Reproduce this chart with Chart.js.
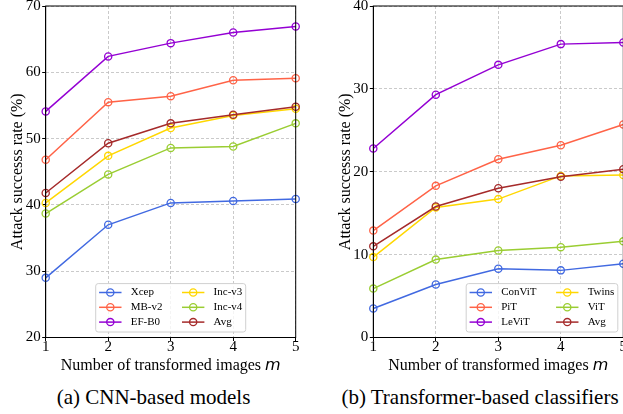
<!DOCTYPE html>
<html><head><meta charset="utf-8">
<script src="https://cdn.jsdelivr.net/npm/chart.js@4.4.1/dist/chart.umd.min.js"></script>
<style>
html,body{margin:0;padding:0;background:#fff;width:623px;height:414px;overflow:hidden;position:relative;}
canvas{position:absolute;top:0;}
#c1{left:0}
#c2{left:310px}
.cap{position:absolute;font-family:"Liberation Serif",serif;font-size:21px;line-height:21px;white-space:nowrap;color:#000;transform:translateX(-50%);top:386.7px}
</style></head><body>
<canvas id="c1" width="310" height="380"></canvas>
<canvas id="c2" width="330" height="380"></canvas>
<div class="cap" style="left:153.5px">(a) CNN-based models</div>
<div class="cap" style="left:480px">(b) Transformer-based classifiers</div>
<script>
// ---- data ----
const mValues = [1, 2, 3, 4, 5];

const cnnNames = ['Xcep', 'MB-v2', 'EF-B0', 'Inc-v3', 'Inc-v4', 'Avg'];
const xcep  = [29.0, 37.0, 40.3, 40.6, 40.9];
const mbv2  = [46.8, 55.5, 56.4, 58.8, 59.1];
const efb0  = [54.1, 62.4, 64.4, 66.0, 66.9];
const incv3 = [40.3, 47.4, 51.6, 53.5, 54.5];
const incv4 = [38.7, 44.6, 48.6, 48.8, 52.3];
const cnnAvg = [41.8, 49.3, 52.3, 53.6, 54.8];

const vitNames = ['ConViT', 'PiT', 'LeViT', 'Twins', 'ViT', 'Avg'];
const convit = [3.5, 6.4, 8.3, 8.1, 8.9];
const pit    = [12.9, 18.3, 21.5, 23.2, 25.7];
const levit  = [22.8, 29.3, 32.9, 35.4, 35.6];
const twins  = [9.7, 15.7, 16.7, 19.5, 19.6];
const vit    = [5.9, 9.4, 10.5, 10.9, 11.6];
const vitAvg = [11.0, 15.8, 18.0, 19.4, 20.3];

const cnnYTicks = [20, 30, 40, 50, 60, 70];
const vitYTicks = [0, 10, 20, 30, 40];

const xTitleText = 'Number of transformed images';
const xTitleVar = 'm';
const yTitleText = 'Attack successs rate (%)';

const seriesColors = ['#4169E1', '#FF6347', '#9400D3', '#FFD700', '#9ACD32', '#A52A2A'];

// ---- helpers ----
const SERIF = '"Liberation Serif", "Times New Roman", serif';

function makeDatasets(names, series) {
  return names.map((n, i) => ({
    label: n,
    data: series[i].map((v, j) => ({ x: mValues[j], y: v })),
    borderColor: seriesColors[i],
    backgroundColor: 'rgba(0,0,0,0)',
    borderWidth: 1.5,
    pointRadius: 3.6,
    pointBorderWidth: 1.3,
    pointBackgroundColor: 'rgba(0,0,0,0)',
    pointBorderColor: seriesColors[i],
    tension: 0,
    clip: false,
    order: names.length - 1 - i
  }));
}

function makeScales(yMin, yMax, yTicks, yAxisWidth, titlePad, canvasH, plotBottom) {
  const gridOpts = { color: '#bdbdbd', lineWidth: 0.8, tickLength: 3.5, tickColor: '#000', tickWidth: 1, tickBorderDash: [], drawTicks: true };
  const borderOpts = { display: true, color: '#000', width: 1, dash: [3, 2] };
  return {
    x: {
      type: 'linear', min: 1, max: 5, position: 'bottom',
      afterBuildTicks: s => { s.ticks = mValues.map(v => ({ value: v })); },
      ticks: { font: { family: SERIF, size: 15, lineHeight: 1 }, color: '#000', padding: -1.8, maxRotation: 0, autoSkip: false, callback: v => String(v) },
      grid: gridOpts, border: borderOpts,
      afterFit: s => { s.height = canvasH - plotBottom; s.paddingLeft = 0; s.paddingRight = 0; }
    },
    y: {
      type: 'linear', min: yMin, max: yMax, position: 'left',
      afterBuildTicks: s => { s.ticks = yTicks.map(v => ({ value: v })); },
      ticks: { font: { family: SERIF, size: 15, lineHeight: 1 }, color: '#000', padding: 1.5, autoSkip: false, callback: v => String(v) },
      grid: gridOpts, border: borderOpts,
      title: { display: true, text: yTitleText, color: '#000', font: { family: SERIF, size: 16, lineHeight: 1.2 }, padding: { top: titlePad, bottom: 0 } },
      afterFit: s => { s.width = yAxisWidth; s.paddingTop = 0; s.paddingBottom = 0; }
    }
  };
}

const framePlugin = {
  id: 'frame',
  afterDatasetsDraw(chart) {
    const { ctx, chartArea: a } = chart;
    ctx.save();
    ctx.strokeStyle = '#000';
    ctx.lineWidth = 1;
    ctx.setLineDash([]);
    ctx.strokeRect(a.left, a.top, a.right - a.left, a.bottom - a.top);
    ctx.restore();
  }
};

const xTitlePlugin = {
  id: 'xTitle',
  afterDraw(chart) {
    const { ctx, chartArea: a } = chart;
    ctx.save();
    const f1 = '16px ' + SERIF, f2 = 'italic 16px "DejaVu Sans"';
    ctx.font = f1; const w1 = ctx.measureText(xTitleText + ' ').width;
    ctx.font = f2; const w2 = ctx.measureText(xTitleVar).width;
    const x = (a.left + a.right) / 2 - (w1 + w2) / 2, y = 370.3;
    ctx.textAlign = 'left'; ctx.textBaseline = 'alphabetic'; ctx.fillStyle = '#000';
    ctx.font = f1; ctx.fillText(xTitleText + ' ', x, y);
    ctx.font = f2; ctx.fillText(xTitleVar, x + w1, y);
    ctx.restore();
  }
};

const boxLegendPlugin = {
  id: 'boxLegend',
  afterDraw(chart, args, opts) {
    const { ctx, chartArea: a } = chart;
    const ds = chart.data.datasets;
    const rows = 3, cols = Math.ceil(ds.length / rows);
    ctx.save();
    ctx.font = '11px ' + SERIF;
    const colW = [];
    for (let c = 0; c < cols; c++) {
      let m = 0;
      for (let r = 0; r < rows; r++) { const d = ds[c * rows + r]; if (d) m = Math.max(m, ctx.measureText(d.label).width); }
      colW.push(m);
    }
    const pad = 3.4, hl = 22.4, hp = 9.2, cs = 19.5, topPad = 8.9, rowSp = 14.8, botPad = 9.9;
    const w = pad * 2 + cols * (hl + hp) + colW.reduce((s, v) => s + v, 0) + (cols - 1) * cs;
    const h = topPad + (rows - 1) * rowSp + botPad;
    const x0 = opts.loc === 'lower right' ? a.right - 5.5 - w : (a.left + a.right) / 2 - w / 2;
    const y0 = a.bottom - 5.5 - h;
    ctx.beginPath();
    ctx.roundRect(x0, y0, w, h, 2.5);
    ctx.fillStyle = 'rgba(255,255,255,0.8)';
    ctx.fill();
    ctx.strokeStyle = '#d0d0d0';
    ctx.lineWidth = 1;
    ctx.stroke();
    let cx = x0 + pad;
    for (let c = 0; c < cols; c++) {
      for (let r = 0; r < rows; r++) {
        const d = ds[c * rows + r]; if (!d) continue;
        const y = y0 + topPad + r * rowSp;
        ctx.strokeStyle = d.borderColor; ctx.lineWidth = 1.5;
        ctx.beginPath(); ctx.moveTo(cx, y); ctx.lineTo(cx + hl, y); ctx.stroke();
        ctx.lineWidth = 1.3;
        ctx.beginPath(); ctx.arc(cx + hl / 2, y, 3.6, 0, Math.PI * 2); ctx.stroke();
        ctx.fillStyle = '#000'; ctx.textAlign = 'left'; ctx.textBaseline = 'middle';
        ctx.fillText(d.label, cx + hl + hp, y);
      }
      cx += hl + hp + colW[c] + cs;
    }
    ctx.restore();
  }
};

function makeChart(id, names, series, yMin, yMax, yTicks, yAxisWidth, titlePad, padRight, loc) {
  const canvas = document.getElementById(id);
  return new Chart(canvas, {
    type: 'line',
    data: { datasets: makeDatasets(names, series) },
    options: {
      responsive: false, animation: false, devicePixelRatio: 1,
      layout: { padding: { top: 6, right: padRight, left: 0, bottom: 0 } },
      scales: makeScales(yMin, yMax, yTicks, yAxisWidth, titlePad, 380, 337.5),
      plugins: { legend: { display: false }, tooltip: { enabled: false }, boxLegend: { loc: loc } }
    },
    plugins: [framePlugin, xTitlePlugin, boxLegendPlugin]
  });
}

makeChart('c1', cnnNames, [xcep, mbv2, efb0, incv3, incv4, cnnAvg], 20, 70, cnnYTicks, 45.7, 7.7, 310 - 295.7, 'lower center');
makeChart('c2', vitNames, [convit, pit, levit, twins, vit, vitAvg], 0, 40, vitYTicks, 63.3, 25.7, 330 - 313.3, 'lower right');
</script>
</body></html>
